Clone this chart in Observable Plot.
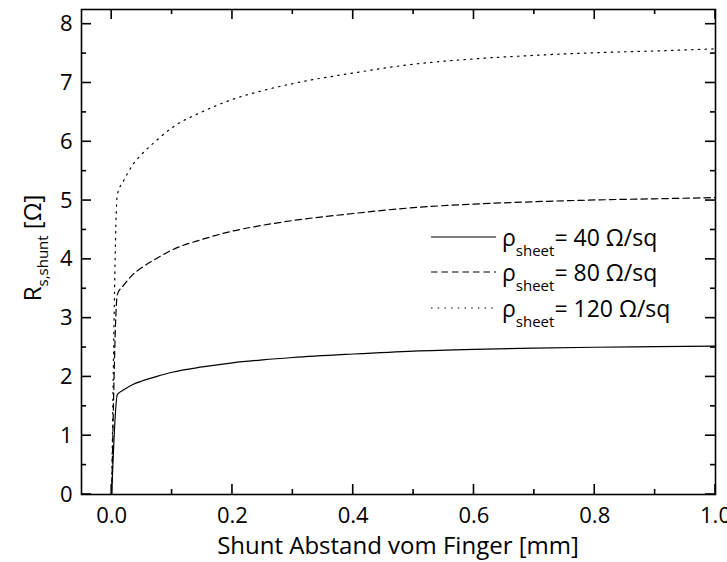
<!DOCTYPE html>
<html>
<head>
<meta charset="utf-8">
<script src="https://cdn.jsdelivr.net/npm/d3@7"></script>
<script src="https://cdn.jsdelivr.net/npm/@observablehq/plot@0.6"></script>
<style>
  body { margin: 0; background: #fff; }
  #chart svg { font-family: "Open Sans", "DejaVu Sans", sans-serif; }
</style>
</head>
<body>
<div id="chart"></div>
<script>
// Shunt distance from finger [mm]
const distance = [0, 0.0093, 0.02, 0.035, 0.05, 0.075, 0.1, 0.15, 0.2, 0.25, 0.3, 0.4, 0.5, 0.6, 0.7, 0.8, 0.9, 1.0];
// R_s,shunt [Ohm] for the three sheet resistances
const r40  = [0, 1.70, 1.78, 1.87, 1.93, 2.01, 2.08, 2.17, 2.24, 2.29, 2.33, 2.39, 2.44, 2.47, 2.49, 2.505, 2.515, 2.525];
const r80  = [0, 3.40, 3.56, 3.74, 3.86, 4.02, 4.16, 4.34, 4.48, 4.58, 4.66, 4.78, 4.88, 4.94, 4.98, 5.01, 5.03, 5.05];
const r120 = [0, 5.10, 5.34, 5.61, 5.79, 6.03, 6.24, 6.51, 6.72, 6.87, 6.99, 7.17, 7.32, 7.41, 7.47, 7.515, 7.545, 7.58];
const seriesNames = ["40", "80", "120"];
const seriesDash = ["none", "6.5,4", "1.5,5.2"];

const xMajor = [0, 0.2, 0.4, 0.6, 0.8, 1.0];
const xMinor = [0.1, 0.3, 0.5, 0.7, 0.9];
const xTickLabels = ["0.0", "0.2", "0.4", "0.6", "0.8", "1.0"];
const yMajor = [0, 1, 2, 3, 4, 5, 6, 7, 8];
const yMinor = [0.5, 1.5, 2.5, 3.5, 4.5, 5.5, 6.5, 7.5];

const xTitle = "Shunt Abstand vom Finger [mm]";

const seriesValues = [r40, r80, r120];
const rows = [];
seriesValues.forEach((vals, s) => {
  distance.forEach((d, i) => rows.push({ x: d, y: vals[i], s: seriesNames[s] }));
});

const FONT = 22;
const fam = "Open Sans, DejaVu Sans, sans-serif";

const lineMarks = seriesNames.map((name, s) =>
  Plot.line(rows.filter(r => r.s === name), {
    x: "x", y: "y", stroke: "black", strokeWidth: 1.2,
    strokeDasharray: seriesDash[s] === "none" ? null : seriesDash[s],
    curve: "monotone-x"
  })
);

const chart = Plot.plot({
  width: 727,
  height: 562,
  marginLeft: 81,
  marginRight: 12,
  marginTop: 9,
  marginBottom: 68,
  style: { background: "white", color: "black", fontSize: FONT + "px", fontFamily: fam },
  x: { domain: [-0.05, 1.0] },
  y: { domain: [0, 8.25] },
  marks: [
    ...lineMarks,
    Plot.axisX(xMajor, { anchor: "bottom", tickSize: 0, tickPadding: 13, fontSize: FONT,
      tickFormat: d => xTickLabels[xMajor.indexOf(d)], label: null }),
    Plot.axisY(yMajor, { anchor: "left", tickSize: 0, tickPadding: 9, fontSize: FONT,
      tickFormat: d => String(d), label: null }),
    Plot.frame({ stroke: "black", strokeWidth: 1.6 })
  ]
});

document.getElementById("chart").appendChild(chart);

const svg = d3.select(chart);
const sx = chart.scale("x"), sy = chart.scale("y");
const [xL, xR] = sx.range;
const [yB, yT] = sy.range;

// inward ticks on all four sides, placed with the plot's own scales
const tg = svg.append("g").attr("stroke", "black").attr("stroke-width", 1.6);
function xTicks(vals, len) {
  vals.forEach(v => {
    const x = sx.apply(v);
    tg.append("line").attr("x1", x).attr("x2", x).attr("y1", yB).attr("y2", yB - len);
    tg.append("line").attr("x1", x).attr("x2", x).attr("y1", yT).attr("y2", yT + len);
  });
}
function yTicks(vals, len) {
  vals.forEach(v => {
    const y = sy.apply(v);
    tg.append("line").attr("x1", xL).attr("x2", xL + len).attr("y1", y).attr("y2", y);
    tg.append("line").attr("x1", xR).attr("x2", xR - len).attr("y1", y).attr("y2", y);
  });
}
xTicks(xMajor, 10); xTicks(xMinor, 5);
yTicks(yMajor, 10); yTicks(yMinor, 5);

// X axis title
svg.append("text")
  .attr("x", (xL + xR) / 2).attr("y", 554)
  .attr("text-anchor", "middle")
  .attr("font-size", 24).attr("font-family", fam).attr("fill", "black")
  .text(xTitle);

// Y axis title with subscript
const yt = svg.append("text")
  .attr("transform", "translate(41,248) rotate(-90)")
  .attr("text-anchor", "middle")
  .attr("font-size", 24).attr("font-family", fam).attr("fill", "black");
yt.append("tspan").text("R");
yt.append("tspan").attr("font-size", 15).attr("dy", 7).text("s,shunt");
yt.append("tspan").attr("dy", -7).text(" [\u03A9]");

// Legend
const legendRowsY = [237, 272, 308];
seriesNames.forEach((name, s) => {
  const y = legendRowsY[s];
  const g = svg.append("g");
  g.append("line")
    .attr("x1", 431).attr("x2", 496).attr("y1", y).attr("y2", y)
    .attr("stroke", "black").attr("stroke-width", 1.2)
    .attr("stroke-dasharray", seriesDash[s] === "none" ? null : seriesDash[s]);
  const t = g.append("text")
    .attr("x", 502).attr("y", y + 9)
    .attr("text-anchor", "start")
    .attr("font-size", 23).attr("font-family", fam).attr("fill", "black");
  t.append("tspan").text("\u03C1");
  t.append("tspan").attr("font-size", 15).attr("dy", 10).text("sheet");
  t.append("tspan").attr("dy", -10).text("= " + name + " \u03A9/sq");
});
</script>
</body>
</html>
